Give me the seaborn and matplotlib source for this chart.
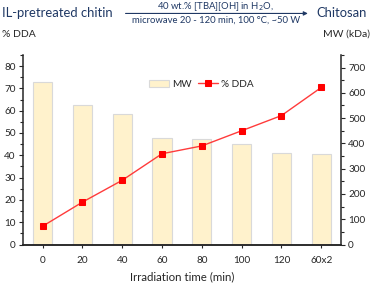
import matplotlib
matplotlib.use("Agg")
import matplotlib.pyplot as plt
import seaborn as sns
from matplotlib.ticker import MultipleLocator

times = ["0", "20", "40", "60", "80", "100", "120", "60x2"]
mw_kda = [642, 553, 515, 420, 418, 399, 362, 357]
dda_pct = [8.2, 19.0, 28.8, 40.7, 44.2, 51.0, 57.8, 70.4]

NAVY = "#1f3864"
DARK = "#262626"


def main():
    sns.set_style("ticks")
    plt.rcParams["font.family"] = ["Lato", "DejaVu Sans"]

    fig = plt.figure(figsize=(3.72, 2.86), dpi=100)
    ax = fig.add_axes([0.061, 0.145, 0.856, 0.663])
    ax2 = ax.twinx()

    sns.barplot(x=times, y=mw_kda, ax=ax2, color="#fff2cc", edgecolor="#d9d9d9",
                linewidth=0.8, width=0.48, saturation=1, label="MW")
    sns.pointplot(x=times, y=dda_pct, ax=ax, color="#ff0000", marker="s",
                  markersize=4.5, linewidth=1.0, label="% DDA")
    for ln in ax.lines:
        ln.set_color("#ff3b3b")
        ln.set_markerfacecolor("#ff0000")
        ln.set_markeredgecolor("#ff0000")
    if ax.get_legend() is not None:
        ax.get_legend().remove()

    ax.set_zorder(ax2.get_zorder() + 1)
    ax.patch.set_visible(False)

    ax.set_xlim(-0.5, 7.5)
    ax.set_ylim(0, 85)
    ax2.set_ylim(0, 750)
    ax.yaxis.set_major_locator(MultipleLocator(10))
    ax.yaxis.set_minor_locator(MultipleLocator(5))
    ax2.yaxis.set_major_locator(MultipleLocator(100))
    ax2.yaxis.set_minor_locator(MultipleLocator(50))

    for a in (ax, ax2):
        a.set_xlabel("")
        a.set_ylabel("")
        a.spines["top"].set_visible(False)
        for s in a.spines.values():
            s.set_color(DARK)
            s.set_linewidth(1.1)
        a.tick_params(which="both", direction="out", colors=DARK, labelsize=7.2,
                      width=0.8)
        a.tick_params(which="major", length=3)
        a.tick_params(which="minor", length=2)
    ax.spines["right"].set_visible(False)
    ax2.spines["left"].set_visible(False)
    ax2.spines["right"].set_visible(True)
    ax.tick_params(axis="x", length=2.5, pad=6)
    ax.tick_params(axis="y", pad=2)
    ax2.tick_params(axis="y", pad=2)

    ax.set_xlabel("Irradiation time (min)", fontsize=8.3, color=DARK, labelpad=4)
    fig.text(0.005, 0.88, "% DDA", fontsize=7.5, color=DARK, va="center")
    fig.text(0.995, 0.88, "MW (kDa)", fontsize=7.5, color=DARK, va="center",
             ha="right")

    h1, l1 = ax2.get_legend_handles_labels()
    h2, l2 = ax.get_legend_handles_labels()
    ax2.legend(h1 + h2, l1 + l2, ncol=2, frameon=False, fontsize=7.2,
               loc="center", bbox_to_anchor=(0.56, 0.845),
               handlelength=2.0, columnspacing=0.6, handletextpad=0.3)

    # reaction scheme header
    fig.text(0.005, 0.953, "IL-pretreated chitin", fontsize=9.4, color=NAVY,
             va="center")
    fig.text(0.85, 0.953, "Chitosan", fontsize=9.4, color=NAVY, va="center")
    fig.text(0.58, 0.977, "40 wt.% [TBA][OH] in H$_2$O,", fontsize=6.8,
             color=NAVY, ha="center", va="center")
    fig.text(0.58, 0.93, "microwave 20 - 120 min, 100 \u00b0C, ~50 W",
             fontsize=6.8, color=NAVY, ha="center", va="center")
    ax.annotate("", xy=(0.835, 0.953), xytext=(0.33, 0.953),
                xycoords="figure fraction", textcoords="figure fraction",
                arrowprops=dict(arrowstyle="-|>", color=NAVY, lw=0.8,
                                mutation_scale=6))

    fig.savefig("out.png", dpi=100)
    plt.close(fig)


if __name__ == "__main__":
    main()
